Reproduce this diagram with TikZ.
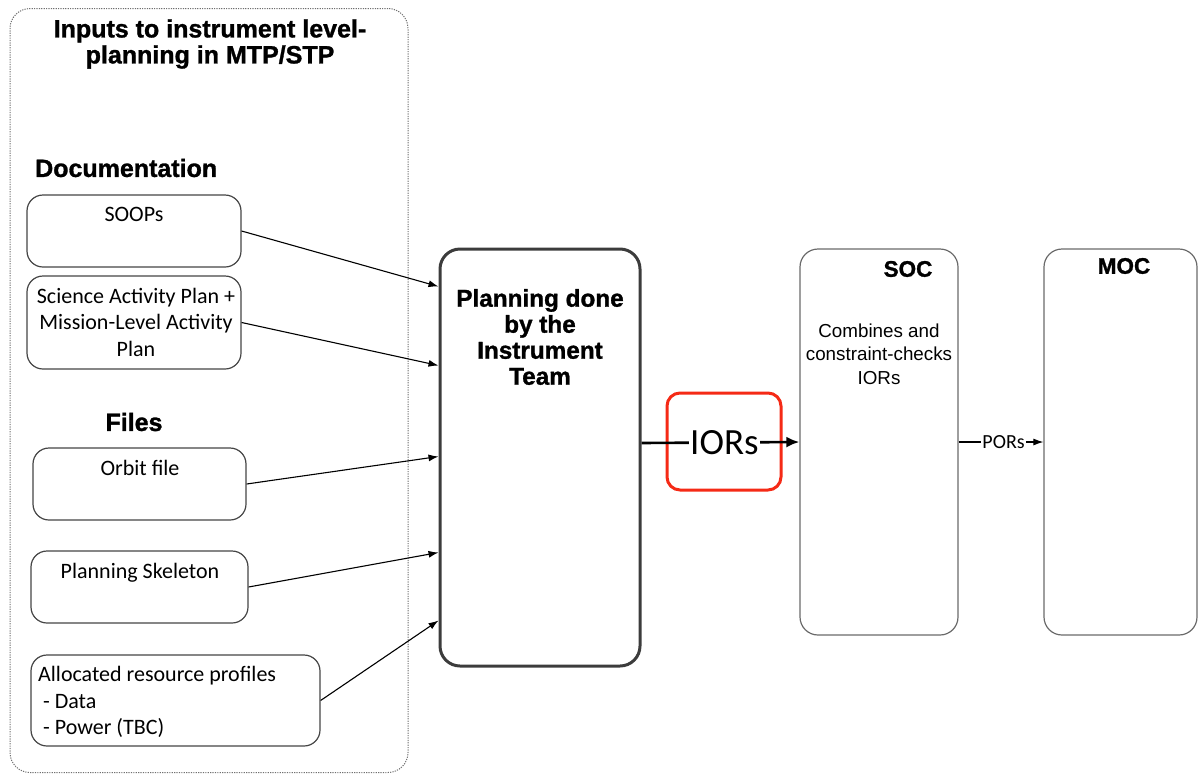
\documentclass[tikz,border=0pt]{standalone}
\usepackage{fontspec}
\setmainfont{Liberation Sans}
\newfontfamily\calfont{Carlito}
\newfontfamily\heavyfont{Liberation Sans Bold}[FakeBold=1.2]
\usetikzlibrary{arrows.meta,calc}
\definecolor{boxgray}{HTML}{454545}
\definecolor{lightbox}{HTML}{6A6A6A}
\definecolor{dotgray}{HTML}{707070}
\definecolor{planbox}{HTML}{3C3C3C}
\definecolor{redbox}{HTML}{F52A16}
\begin{document}
\begin{tikzpicture}[x=1pt,y=-1pt,
  inbox/.style={draw=boxgray, line width=1.2pt, rounded corners=16pt, inner sep=0pt},
  outbox/.style={draw=lightbox, line width=1.2pt, rounded corners=18pt, inner sep=0pt},
  heading/.style={inner sep=0pt, font=\heavyfont\fontsize{25}{26}\selectfont},
  ctext/.style={inner sep=0pt, font=\calfont\fontsize{22}{26.5}\selectfont},
  stext/.style={inner sep=0pt, font=\fontsize{18.8}{23.5}\selectfont},
  thinarrow/.style={draw=black, line width=1.1pt, -{Latex[length=10pt,width=7pt]}},
  thickarrow/.style={draw=black, line width=2.6pt, -{Latex[length=13pt,width=11pt]}}
]
\useasboundingbox (0,0) rectangle (1198,774);
% container
\node[draw=dotgray, line width=1pt, dash pattern=on 1.2pt off 1.2pt, rounded corners=20pt, inner sep=0pt,
      minimum width=398pt, minimum height=764pt] (inputs) at (209,390.5) {};
\node[heading, align=center] (title) at (210,44) {Inputs to instrument level-\\planning in MTP/STP};
\node[heading, anchor=west] (doc) at (35,168) {Documentation};
\node[heading] (files) at (134,422) {Files};
% input boxes
\node[inbox, minimum width=214pt, minimum height=72pt] (soops) at (134,231) {};
\node[ctext] (soopsT) at (134,214) {SOOPs};
\node[inbox, minimum width=214pt, minimum height=93pt] (sap) at (134,322.5) {};
\node[ctext, align=center] (sapT) at (136,322) {Science Activity Plan +\\Mission-Level Activity\\Plan};
\node[inbox, minimum width=213pt, minimum height=72pt] (orbit) at (139.5,484) {};
\node[ctext] (orbitT) at (140,468) {Orbit file};
\node[inbox, minimum width=217pt, minimum height=72pt] (skel) at (139.5,587) {};
\node[ctext] (skelT) at (140,573) {Planning Skeleton};
\node[inbox, minimum width=289pt, minimum height=91pt] (alloc) at (175.5,700.5) {};
\node[ctext, align=left, anchor=west] (allocT) at (38,702) {Allocated resource profiles\\\ - Data\\\ - Power (TBC)};
% planning box
\node[draw=planbox, line width=3pt, rounded corners=20pt, inner sep=0pt,
      minimum width=200pt, minimum height=417pt] (plan) at (540,457.5) {};
\node[heading, font=\heavyfont\fontsize{24.3}{26}\selectfont, align=center] (planT) at (540,337) {Planning done\\by the\\Instrument\\Team};
% SOC and MOC
\node[outbox, minimum width=158pt, minimum height=386pt] (soc) at (879,442) {};
\node[heading, font=\heavyfont\fontsize{22.5}{26}\selectfont] (socT) at (908,269) {SOC};
\node[stext, align=center] (socD) at (879,354) {Combines and\\constraint-checks\\IORs};
\node[outbox, minimum width=153pt, minimum height=386pt] (moc) at (1120.5,442) {};
\node[heading, font=\heavyfont\fontsize{22.5}{26}\selectfont] (mocT) at (1124,266) {MOC};
% red highlight
\node[draw=redbox, line width=3pt, rounded corners=13pt, inner sep=0pt,
      minimum width=114pt, minimum height=97pt] (hl) at (724,441.5) {};
% input arrows
\draw[thinarrow] (soops.east) -- ($(plan.north west)+(0,39)$);
\draw[thinarrow] (sap.east) -- ($(plan.north west)+(0,118)$);
\draw[thinarrow] (orbit.east) -- ($(plan.north west)+(0,209)$);
\draw[thinarrow] (skel.east) -- ($(plan.north west)+(0,305)$);
\draw[thinarrow] (alloc.east) -- ($(plan.north west)+(0,373)$);
% output arrows
\draw[thickarrow] ($(plan.east)+(0,-14.5)$) -- node[pos=0.525, fill=white, inner sep=1pt, font=\calfont\fontsize{37}{40}\selectfont] (iors) {IORs} (soc.west);
\draw[thinarrow] (soc.east) -- node[pos=0.53, fill=white, inner sep=1pt, font=\calfont\fontsize{20}{24}\selectfont] (pors) {PORs} (moc.west);
\end{tikzpicture}
\end{document}
